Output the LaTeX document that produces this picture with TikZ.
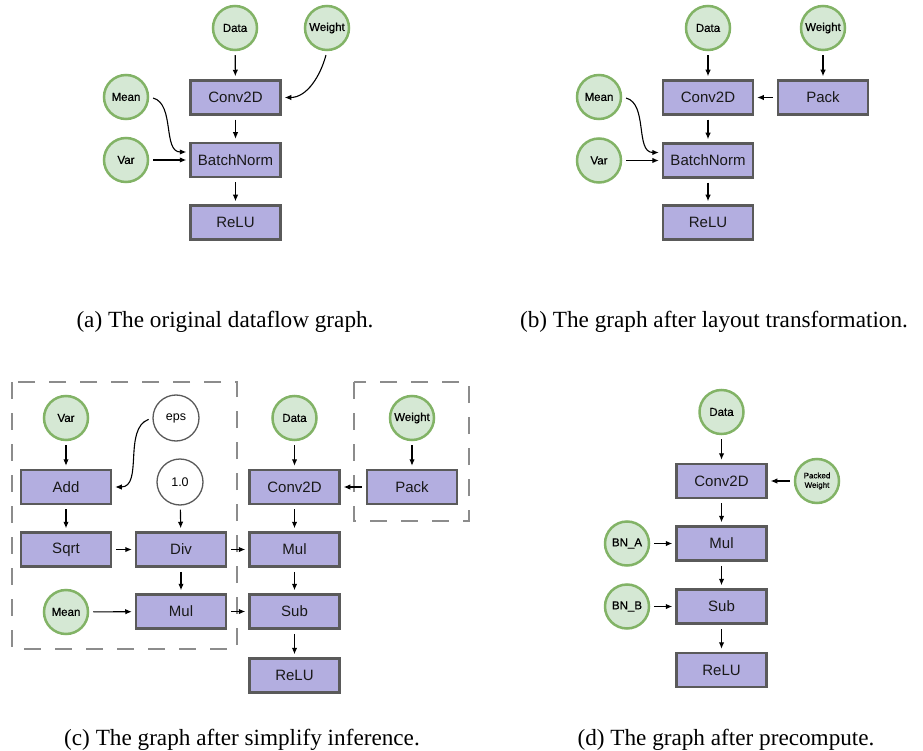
\documentclass[tikz,border=0pt]{standalone}
\usepackage{fontspec}
\setmainfont{Liberation Serif}
\newfontfamily\nodefont{Liberation Sans}
\newfontfamily\circfont[FakeBold=0.6]{Liberation Sans}
\usetikzlibrary{arrows.meta}

\definecolor{opfill}{HTML}{B3AEE0}
\definecolor{opdraw}{HTML}{5A5A5A}
\definecolor{infill}{HTML}{D5E8D4}
\definecolor{indraw}{HTML}{82B366}
\definecolor{grpdraw}{HTML}{8C8C8C}

\begin{document}
\begin{tikzpicture}[x=1pt,y=-1pt,
  op/.style={draw=opdraw, fill=opfill, line width=2.5pt, minimum width=90pt,
    minimum height=34pt, inner sep=0pt, text=black!90,
    font=\nodefont\fontsize{15}{17}\selectfont},
  inp/.style={circle, draw=indraw, fill=infill, line width=2.5pt, minimum size=44pt,
    inner sep=0pt, font=\circfont\fontsize{11.5}{13}\selectfont},
  cst/.style={circle, draw=opdraw, fill=white, line width=1.3pt, minimum size=46pt,
    inner sep=0pt, font=\nodefont\fontsize{12.5}{14}\selectfont},
  flow/.style={-{Latex[length=6.5pt,width=5.5pt]}, line width=1.1pt,
    shorten >=3pt, shorten <=4pt},
  grp/.style={draw=grpdraw, line width=2.5pt, dash pattern=on 17pt off 14pt},
  subcap/.style={font=\fontsize{23.2}{27}\selectfont, inner sep=0pt, anchor=base}]
\useasboundingbox (0,0) rectangle (923,751);

% ---------- (a) original dataflow graph ----------
\node[inp] (aData)   at (235,28)    {Data};
\node[inp] (aWeight) at (327,28)    {Weight};
\node[op]  (aConv)   at (235.5,97.5) {Conv2D};
\node[inp] (aMean)   at (126,97)    {Mean};
\node[op]  (aBN)     at (235.5,160) {BatchNorm};
\node[inp] (aVar)    at (126,160)   {Var};
\node[op]  (aRelu)   at (235.5,222.5) {ReLU};
\draw[flow] (aData) -- (aConv);
\draw[flow] (aConv) -- (aBN);
\draw[flow] (aBN) -- (aRelu);
\draw[flow] (aVar) -- (aBN);
\draw[flow] (aWeight.south) to[out=255,in=0] (aConv.east);
\draw[flow] (aMean.east) to[out=-15,in=180] ([yshift=8pt]aBN.west);
\node[subcap] (capA) at (225,327) {(a) The original dataflow graph.};

% ---------- (b) after layout transformation ----------
\node[inp] (bData)   at (708,28)    {Data};
\node[inp] (bWeight) at (823,28)    {Weight};
\node[op]  (bConv)   at (708,97.5)  {Conv2D};
\node[op]  (bPack)   at (823,97.5)  {Pack};
\node[inp] (bMean)   at (599,97)    {Mean};
\node[op]  (bBN)     at (708,160.5) {BatchNorm};
\node[inp] (bVar)    at (599,160.5) {Var};
\node[op]  (bRelu)   at (708,222.5) {ReLU};
\draw[flow] (bData) -- (bConv);
\draw[flow] (bWeight) -- (bPack);
\draw[flow] (bPack) -- (bConv);
\draw[flow] (bConv) -- (bBN);
\draw[flow] (bBN) -- (bRelu);
\draw[flow] (bVar) -- (bBN);
\draw[flow] (bMean.east) to[out=-15,in=180] ([yshift=8pt]bBN.west);
\node[subcap] (capB) at (714,327) {(b) The graph after layout transformation.};

% ---------- (c) after simplify inference ----------
\draw[grp] (12,382) rectangle (237,649);
\draw[grp] (354,382) rectangle (469,521);
\node[inp] (cVar)   at (66,418)    {Var};
\node[cst] (cEps)   at (176,418)   {eps};
\node[op]  (cAdd)   at (66,487)    {Add};
\node[cst] (cOne)   at (180,482)   {1.0};
\node[op]  (cSqrt)  at (66,549.5)  {Sqrt};
\node[op]  (cDiv)   at (181,549.5) {Div};
\node[inp] (cMean)  at (66,612)    {Mean};
\node[op]  (cMulL)  at (181,611.5) {Mul};
\node[inp] (cData)  at (294.5,418) {Data};
\node[inp] (cWeight) at (412,418)  {Weight};
\node[op]  (cConv)  at (294.5,487) {Conv2D};
\node[op]  (cPack)  at (412,487)   {Pack};
\node[op]  (cMul)   at (294.5,549.5) {Mul};
\node[op]  (cSub)   at (294.5,611.5) {Sub};
\node[op]  (cRelu)  at (294.5,675.5) {ReLU};
\draw[flow] (cVar) -- (cAdd);
\draw[flow] (cEps.west) to[out=200,in=0] (cAdd.east);
\draw[flow] (cAdd) -- (cSqrt);
\draw[flow] (cSqrt) -- (cDiv);
\draw[flow] (cOne) -- (cDiv);
\draw[flow] (cDiv) -- (cMulL);
\draw[flow] (cMean) -- (cMulL);
\draw[flow] (cDiv) -- (cMul);
\draw[flow] (cMulL) -- (cSub);
\draw[flow] (cData) -- (cConv);
\draw[flow] (cWeight) -- (cPack);
\draw[flow] (cPack) -- (cConv);
\draw[flow] (cConv) -- (cMul);
\draw[flow] (cMul) -- (cSub);
\draw[flow] (cSub) -- (cRelu);
\node[subcap] (capC) at (242,745) {(c) The graph after simplify inference.};

% ---------- (d) after precompute ----------
\node[inp] (dData)  at (721.5,412) {Data};
\node[op]  (dConv)  at (721.5,481) {Conv2D};
\node[inp, align=center, font=\circfont\fontsize{8}{9.5}\selectfont] (dPW) at (817,481) {Packed\\Weight};
\node[inp] (dBNA)   at (627,543.5) {BN\_A};
\node[op]  (dMul)   at (721.5,543.5) {Mul};
\node[inp] (dBNB)   at (627,606.5) {BN\_B};
\node[op]  (dSub)   at (721.5,606.5) {Sub};
\node[op]  (dRelu)  at (721.5,670) {ReLU};
\draw[flow] (dData) -- (dConv);
\draw[flow] (dPW) -- (dConv);
\draw[flow] (dConv) -- (dMul);
\draw[flow] (dBNA) -- (dMul);
\draw[flow] (dMul) -- (dSub);
\draw[flow] (dBNB) -- (dSub);
\draw[flow] (dSub) -- (dRelu);
\node[subcap] (capD) at (726,745) {(d) The graph after precompute.};
\end{tikzpicture}
\end{document}
